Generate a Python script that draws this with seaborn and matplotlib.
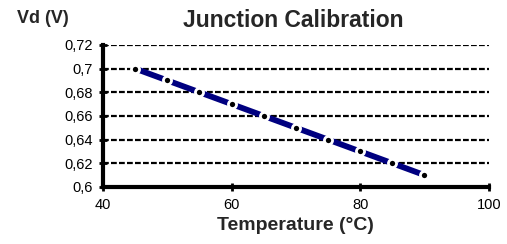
import numpy as np
import pandas as pd
import matplotlib
matplotlib.use("Agg")
import matplotlib.pyplot as plt
import seaborn as sns

# Data
temperature = [45, 50, 55, 60, 65, 70, 75, 80, 85, 90]
vd = [0.70, 0.69, 0.68, 0.67, 0.66, 0.65, 0.64, 0.63, 0.62, 0.61]
y_ticks = [0.60, 0.62, 0.64, 0.66, 0.68, 0.70, 0.72]
y_labels = ["0,6", "0,62", "0,64", "0,66", "0,68", "0,7", "0,72"]
x_ticks = [40, 60, 80, 100]

df = pd.DataFrame({"Temperature": temperature, "Vd": vd})

sns.set_style("white")
plt.rcParams["font.family"] = ["Liberation Sans", "DejaVu Sans"]

fig = plt.figure(figsize=(5.07, 2.44), dpi=100)
ax = fig.add_axes([0.203, 0.234, 0.761, 0.582])

# horizontal dashed grid
for yv in y_ticks[1:]:
    ax.axhline(yv, color="black", lw=1.6, ls=(0, (2.6, 1.0)), zorder=1)

sns.lineplot(data=df, x="Temperature", y="Vd", ax=ax, color="#000080",
             lw=4.2, zorder=3)
# black dots with white ring, as in the reference
sns.scatterplot(data=df, x="Temperature", y="Vd", ax=ax, color="black",
                s=34, edgecolor="white", linewidth=2.0, zorder=4)

ax.set_xlim(40, 100)
ax.set_ylim(0.6, 0.72)
ax.set_xticks(x_ticks)
ax.set_yticks(y_ticks)
ax.set_yticklabels(y_labels)
ax.tick_params(axis="both", labelsize=10.5, colors="black", direction="inout",
               length=6, width=2, left=True, bottom=True)
ax.tick_params(axis="x", pad=5)
ax.tick_params(axis="y", pad=4)

for s in ["top", "right"]:
    ax.spines[s].set_visible(False)
for s in ["left", "bottom"]:
    ax.spines[s].set_color("black")
    ax.spines[s].set_linewidth(3)

ax.set_xlabel("")
ax.set_ylabel("")
fig.text(0.578, 0.915, "Junction Calibration", ha="center", va="center",
         fontsize=16.5, fontweight="bold")
fig.text(0.085, 0.925, "Vd (V)", ha="center", va="center",
         fontsize=13, fontweight="bold")
fig.text(0.582, 0.075, "Temperature (°C)", ha="center", va="center",
         fontsize=14, fontweight="bold")

fig.savefig("out.png", dpi=100)
